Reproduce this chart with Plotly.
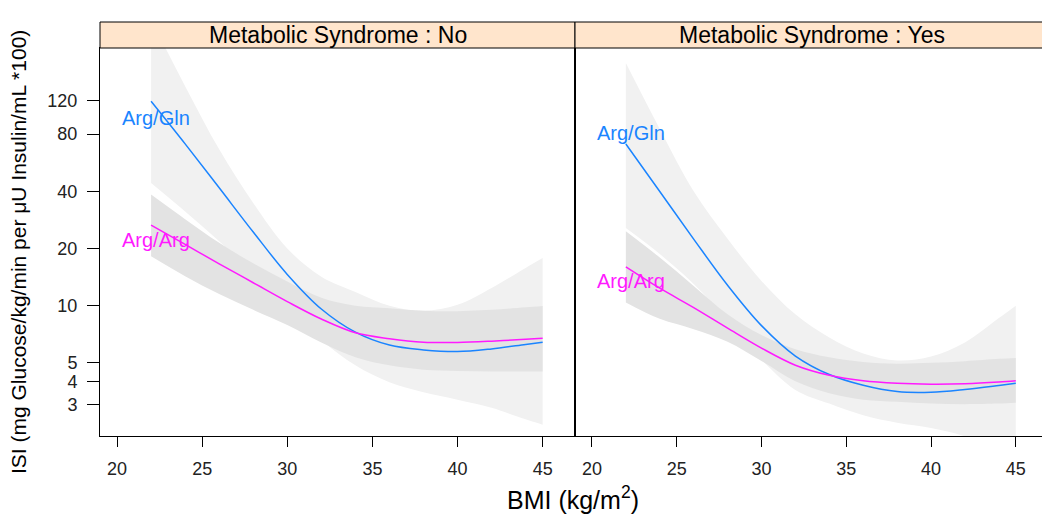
import math
import plotly.graph_objects as go

bmi = [22, 24, 26, 28, 30, 32, 34, 36, 38, 40, 42, 44, 45]

# Metabolic Syndrome : No
gln_no = [119, 71, 41.7, 24.4, 14.6, 9.6, 7.25, 6.2, 5.85, 5.73, 5.92, 6.25, 6.42]
gln_no_hi = [320, 143, 66.5, 34.7, 20.0, 14.2, 11.8, 10.0, 9.4, 10.1, 12.4, 15.8, 17.8]
gln_no_lo = [44.2, 31.3, 21.8, 14.7, 9.8, 6.6, 4.85, 3.95, 3.5, 3.2, 2.9, 2.52, 2.36]
arg_no = [26.5, 21.0, 16.6, 13.2, 10.5, 8.5, 7.2, 6.7, 6.42, 6.40, 6.5, 6.65, 6.74]
arg_no_hi = [38.4, 28.5, 21.4, 16.7, 13.4, 11.0, 10.0, 9.7, 9.4, 9.35, 9.5, 9.8, 9.96]
arg_no_lo = [18.2, 14.3, 11.5, 9.5, 7.9, 6.4, 5.35, 4.85, 4.6, 4.53, 4.5, 4.5, 4.5]

# Metabolic Syndrome : Yes
gln_yes = [70.9, 39.9, 22.4, 12.8, 7.85, 5.43, 4.34, 3.81, 3.53, 3.5, 3.62, 3.8, 3.9]
gln_yes_hi = [189, 85, 40, 22.5, 13.5, 9.0, 6.8, 5.6, 5.15, 5.4, 6.4, 8.6, 10.0]
gln_yes_lo = [25.6, 18.7, 13.0, 8.4, 5.2, 3.6, 3.05, 2.65, 2.42, 2.27, 2.05, 1.68, 1.52]
arg_yes = [16.0, 12.35, 9.77, 7.62, 5.98, 4.86, 4.3, 4.02, 3.9, 3.86, 3.88, 3.96, 4.02]
arg_yes_hi = [24.6, 17.9, 12.7, 9.0, 7.0, 5.9, 5.35, 5.05, 4.95, 5.0, 5.1, 5.25, 5.3]
arg_yes_lo = [10.4, 8.52, 7.52, 6.45, 5.11, 4.0, 3.46, 3.2, 3.12, 3.05, 3.03, 3.05, 3.08]

panels = ["Metabolic Syndrome : No", "Metabolic Syndrome : Yes"]
y_ticks = [3, 4, 5, 10, 20, 40, 80, 120]
x_ticks = [20, 25, 30, 35, 40, 45]

BLUE = "#1a84ff"
PINK = "#ff1aff"
LIGHT = "#f1f1f1"
DARK = "#e3e3e3"
FONT = "Liberation Sans, Arial, sans-serif"

W, H = 1050, 524
OFF = 8  # page body margin pushes the figure 8px right/down

def px_x(p):
    return (p - OFF) / W
def px_y(p):
    return 1 - (p - OFF) / H

fig = go.Figure()

def add_panel(xa, ya, gln, ghi, glo, arg, ahi, alo):
    opts = dict(xaxis=xa, yaxis=ya, showlegend=False, hoverinfo="skip", mode="lines")
    fig.add_trace(go.Scatter(x=bmi, y=glo, line=dict(width=0, shape="spline"), **opts))
    fig.add_trace(go.Scatter(x=bmi, y=ghi, line=dict(width=0, shape="spline"),
                             fill="tonexty", fillcolor=LIGHT, **opts))
    fig.add_trace(go.Scatter(x=bmi, y=alo, line=dict(width=0, shape="spline"), **opts))
    fig.add_trace(go.Scatter(x=bmi, y=ahi, line=dict(width=0, shape="spline"),
                             fill="tonexty", fillcolor=DARK, **opts))
    fig.add_trace(go.Scatter(x=bmi, y=gln, line=dict(color=BLUE, width=1.5, shape="spline"), **opts))
    fig.add_trace(go.Scatter(x=bmi, y=arg, line=dict(color=PINK, width=1.5, shape="spline"), **opts))

add_panel("x", "y", gln_no, gln_no_hi, gln_no_lo, arg_no, arg_no_hi, arg_no_lo)
add_panel("x2", "y2", gln_yes, gln_yes_hi, gln_yes_lo, arg_yes, arg_yes_hi, arg_yes_lo)

y_range = [math.log10(2.06), math.log10(227)]
x_range = [19.0, 46.9]
ydom = [px_y(436), px_y(48)]

xcommon = dict(range=x_range, tickvals=x_ticks, ticks="outside", ticklen=10,
               tickcolor="black", showline=True, linecolor="black", linewidth=1,
               mirror=True, showgrid=False, zeroline=False,
               tickfont=dict(size=18, color="#222"), ticklabelstandoff=6)
ycommon = dict(type="log", range=y_range, showline=True, linecolor="black",
               linewidth=1, mirror=True, showgrid=False, zeroline=False, domain=ydom)

fig.update_layout(
    width=W, height=H,
    margin=dict(l=0, r=0, t=0, b=0, autoexpand=False),
    paper_bgcolor="white", plot_bgcolor="white",
    font=dict(family=FONT, color="black"),
    xaxis=dict(domain=[px_x(100), px_x(575)], anchor="y", **xcommon),
    xaxis2=dict(domain=[px_x(575), px_x(1048)], anchor="y2", **xcommon),
    yaxis=dict(anchor="x", tickvals=y_ticks, ticktext=[str(v) for v in y_ticks],
               ticks="outside", ticklen=12, tickcolor="black",
               tickfont=dict(size=18, color="#222"), ticklabelstandoff=6, **ycommon),
    yaxis2=dict(anchor="x2", showticklabels=False, ticks="", **ycommon),
)

# strips
shapes = []
annotations = []
for (x0, x1), title in zip([(100, 575), (575, 1048)], panels):
    shapes.append(dict(type="rect", xref="paper", yref="paper",
                       x0=px_x(x0), x1=px_x(x1), y0=px_y(48), y1=px_y(22),
                       fillcolor="#ffe5cc", line=dict(color="black", width=1)))
    annotations.append(dict(text=title, xref="paper", yref="paper",
                            x=px_x((x0 + x1) / 2), y=px_y(35), showarrow=False,
                            xanchor="center", yanchor="middle",
                            font=dict(size=23, color="black")))

# group labels at curve starts
labels = [("x", "y", "Arg/Gln", 97.1, BLUE), ("x", "y", "Arg/Arg", 22.2, PINK),
          ("x2", "y2", "Arg/Gln", 81.2, BLUE), ("x2", "y2", "Arg/Arg", 13.5, PINK)]
for xa, ya, txt, yv, col in labels:
    annotations.append(dict(text=txt, xref=xa, yref=ya, x=20.15, y=math.log10(yv),
                            showarrow=False, xanchor="left", yanchor="middle",
                            font=dict(size=20, color=col)))

annotations.append(dict(text="BMI (kg/m<sup>2</sup>)", xref="paper", yref="paper",
                        x=px_x(573), y=px_y(498), showarrow=False,
                        xanchor="center", yanchor="middle",
                        font=dict(size=25, color="black")))
annotations.append(dict(text="ISI (mg Glucose/kg/min per \u03bcU Insulin/mL *100)",
                        xref="paper", yref="paper", x=px_x(18), y=px_y(252),
                        showarrow=False, textangle=-90, xanchor="center", yanchor="middle",
                        font=dict(size=21, color="black")))

fig.update_layout(shapes=shapes, annotations=annotations)

fig.write_html("out.html")
